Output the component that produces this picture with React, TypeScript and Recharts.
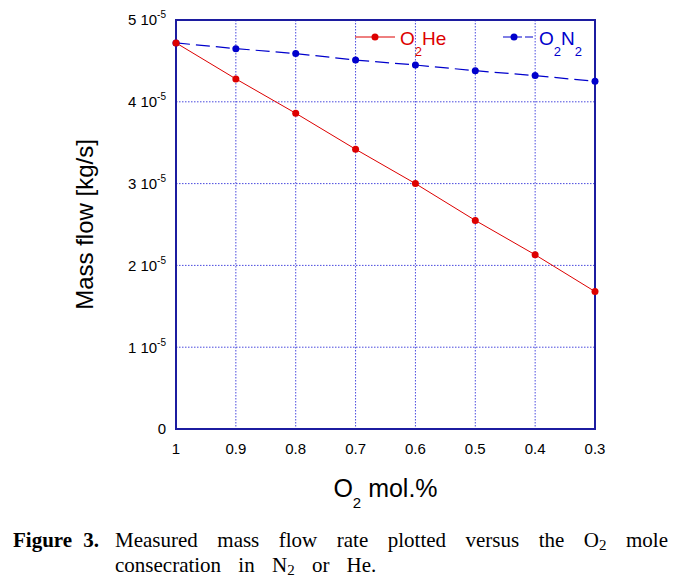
import React from "react";
import {
  LineChart,
  Line,
  XAxis,
  YAxis,
  CartesianGrid,
  ReferenceArea,
  Label,
} from "recharts";

// O2 mole fraction (x axis, plotted from 1 down to 0.3)
const o2Fraction = [1, 0.9, 0.8, 0.7, 0.6, 0.5, 0.4, 0.3];
// mass flow, in units of 1e-5 kg/s
const o2HeFlow = [4.72, 4.28, 3.86, 3.42, 3.0, 2.55, 2.13, 1.68];
const o2N2Flow = [4.72, 4.65, 4.59, 4.51, 4.45, 4.38, 4.32, 4.25];

const xTicks = [1, 0.9, 0.8, 0.7, 0.6, 0.5, 0.4, 0.3];
const yTicks = [0, 1, 2, 3, 4, 5];

const data = o2Fraction.map((x, i) => ({
  x,
  he: o2HeFlow[i],
  n2: o2N2Flow[i],
}));

const SANS = '"Liberation Sans", Arial, sans-serif';
const SERIF = '"Liberation Serif", "Times New Roman", serif';
const FRAME = "#1c1ca0";
const GRID = "#2a2ad8";
const RED = "#dd0000";
const BLUE = "#0000cc";

const XTick = ({ x, y, payload }: any) => (
  <text
    x={x}
    y={y}
    dy="0.71em"
    textAnchor="middle"
    fill="#000"
    fontFamily={SANS}
    fontSize={15}
  >
    {payload.value}
  </text>
);

const YTick = ({ x, y, payload }: any) => {
  const v = payload.value;
  if (v === 0) {
    return (
      <text x={x} y={y} dy="0.36em" textAnchor="end" fill="#000" fontFamily={SANS} fontSize={15}>
        0
      </text>
    );
  }
  return (
    <text x={x} y={y} dy="0.36em" textAnchor="end" fill="#000" fontFamily={SANS} fontSize={15}>
      {`${v} 10`}
      <tspan fontSize={10} dy={-7}>
        -5
      </tspan>
    </text>
  );
};

const XTitle = ({ viewBox }: any) => {
  const cx = viewBox.x + viewBox.width / 2;
  return (
    <text x={cx} y={497} textAnchor="middle" fill="#000" fontFamily={SANS} fontSize={25}>
      O
      <tspan fontSize={15} dy={11}>
        2
      </tspan>
      <tspan dy={-11}> mol.%</tspan>
    </text>
  );
};

const YTitle = ({ viewBox }: any) => {
  const cy = viewBox.y + viewBox.height / 2;
  return (
    <text
      x={84}
      y={cy}
      transform={`rotate(-90 84 ${cy})`}
      dy="0.36em"
      textAnchor="middle"
      fill="#000"
      fontFamily={SANS}
      fontSize={24}
    >
      Mass flow [kg/s]
    </text>
  );
};

function ChartLegend() {
  return (
    <svg
      width={260}
      height={40}
      style={{ position: "absolute", left: 350, top: 22, overflow: "visible" }}
    >
      {/* O2He */}
      <line x1={5} y1={15} x2={45} y2={15} stroke={RED} strokeWidth={1} />
      <circle cx={25} cy={15} r={3.5} fill={RED} />
      <text x={50} y={23} fill={RED} fontFamily={SANS} fontSize={19}>
        O
        <tspan fontSize={13} dy={11}>
          2
        </tspan>
        <tspan dy={-11}>He</tspan>
      </text>
      {/* O2N2 */}
      <line x1={153} y1={15} x2={183} y2={15} stroke={BLUE} strokeWidth={1.2} strokeDasharray="8 3" />
      <circle cx={164} cy={15} r={3.5} fill={BLUE} />
      <text x={189} y={23} fill={BLUE} fontFamily={SANS} fontSize={19}>
        O
        <tspan fontSize={13} dy={11}>
          2
        </tspan>
        <tspan dy={-11}>N</tspan>
        <tspan fontSize={13} dy={11}>
          2
        </tspan>
      </text>
    </svg>
  );
}

const subStyle: React.CSSProperties = {
  fontSize: 15,
  verticalAlign: "-3px",
  lineHeight: 0,
};

export default function App() {
  return (
    <div
      style={{
        position: "absolute",
        left: 0,
        top: 0,
        width: 689,
        height: 585,
        background: "#fff",
      }}
    >
      <LineChart
        width={689}
        height={520}
        data={data}
        margin={{ top: 20, right: 94, left: 0, bottom: 0 }}
      >
        <CartesianGrid
          stroke={GRID}
          strokeOpacity={0.85}
          strokeDasharray="1.5 1.5"
          strokeWidth={1}
          horizontalValues={yTicks}
          verticalValues={xTicks}
        />
        <XAxis
          dataKey="x"
          type="number"
          domain={[0.3, 1]}
          reversed
          ticks={xTicks}
          height={91}
          axisLine={false}
          tickLine={false}
          tickSize={0}
          tickMargin={14}
          tick={<XTick />}
          interval={0}
        >
          <Label content={<XTitle />} />
        </XAxis>
        <YAxis
          type="number"
          domain={[0, 5]}
          ticks={yTicks}
          width={176}
          axisLine={false}
          tickLine={false}
          tickSize={0}
          tickMargin={10}
          tick={<YTick />}
          interval={0}
        >
          <Label content={<YTitle />} />
        </YAxis>
        <ReferenceArea
          x1={1}
          x2={0.3}
          y1={0}
          y2={5}
          fill="none"
          fillOpacity={0}
          stroke={FRAME}
          strokeWidth={2}
          strokeOpacity={1}
        />
        <Line
          dataKey="n2"
          stroke={BLUE}
          strokeWidth={1.2}
          strokeDasharray="14 6"
          dot={{ r: 3.5, fill: BLUE, stroke: BLUE, strokeWidth: 0 }}
          isAnimationActive={false}
        />
        <Line
          dataKey="he"
          stroke={RED}
          strokeWidth={1}
          dot={{ r: 3.5, fill: RED, stroke: RED, strokeWidth: 0 }}
          isAnimationActive={false}
        />
      </LineChart>
      <ChartLegend />
      <div
        style={{
          position: "absolute",
          left: 13,
          top: 528,
          fontFamily: SERIF,
          fontSize: 21,
          lineHeight: "25px",
          fontWeight: "bold",
          wordSpacing: 6,
          color: "#000",
          whiteSpace: "nowrap",
        }}
      >
        Figure 3.
      </div>
      <div
        style={{
          position: "absolute",
          left: 115,
          top: 528,
          width: 553,
          fontFamily: SERIF,
          fontSize: 21,
          lineHeight: "25px",
          color: "#000",
          textAlign: "justify",
          textAlignLast: "justify",
          whiteSpace: "nowrap",
        }}
      >
        Measured mass flow rate plotted versus the O<sub style={subStyle}>2</sub> mole
      </div>
      <div
        style={{
          position: "absolute",
          left: 115,
          top: 553,
          fontFamily: SERIF,
          fontSize: 21,
          lineHeight: "25px",
          wordSpacing: 12,
          color: "#000",
          whiteSpace: "nowrap",
        }}
      >
        consecration in N<sub style={subStyle}>2</sub> or He.
      </div>
    </div>
  );
}
